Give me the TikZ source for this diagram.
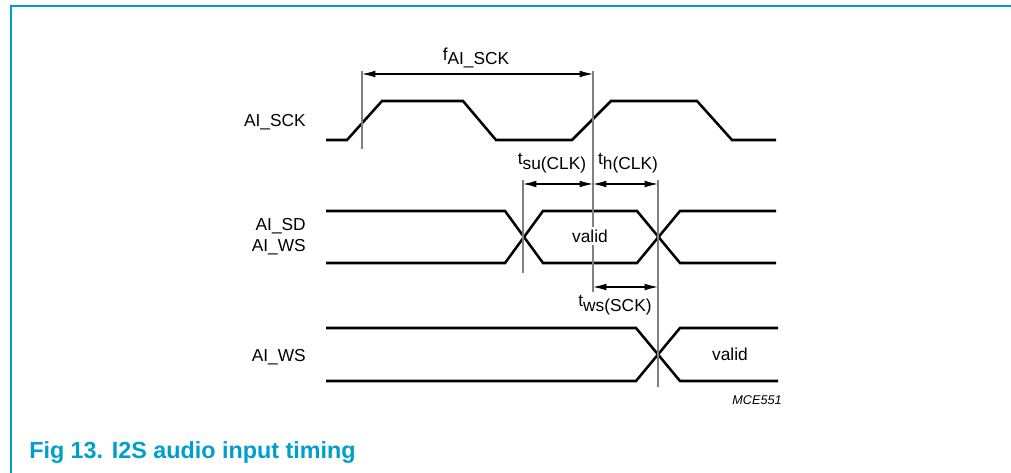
\documentclass[tikz,border=0pt]{standalone}
\usepackage{fontspec}
\setmainfont{Liberation Sans}
\usetikzlibrary{arrows.meta}
\definecolor{figblue}{RGB}{0,158,204}
\newcommand{\sig}[2]{#1\raisebox{-0.5ex}{#2}}

\begin{document}
\begin{tikzpicture}[x=0.75pt,y=-0.75pt,
  wave/.style={line width=1.9pt},
  guide/.style={gray,line width=0.9pt},
  dim/.style={{Latex[length=10pt,width=5pt]}-{Latex[length=10pt,width=5pt]},line width=0.8pt},
  lbl/.style={font=\fontsize{13}{16}\selectfont,inner sep=0pt}]
\useasboundingbox (0,0) rectangle (1011,473);
\draw[figblue,line width=1.5pt] (11,473) -- (11,6) -- (1011,6);

% signal names
\node[lbl,anchor=east] (sck) at (306,122) {AI\_SCK};
\node[lbl,anchor=east,align=right] (sdws) at (306,237) {AI\_SD\\AI\_WS};
\node[lbl,anchor=east] (ws) at (306,357) {AI\_WS};

% waveforms
\draw[wave] (326,140) -- (347,140) -- (382,101) -- (463,101) -- (496,140) -- (572,140)
  -- (611,101) -- (697,101) -- (732,140) -- (776,140);
\draw[wave] (326,211) -- (505,211) -- (543,263) -- (637,263) -- (680,211) -- (776,211);
\draw[wave] (326,263) -- (505,263) -- (543,211) -- (637,211) -- (680,263) -- (776,263);
\draw[wave] (326,328) -- (636,328) -- (680,381) -- (778,381);
\draw[wave] (326,381) -- (636,381) -- (680,328) -- (778,328);

% reference lines
\draw[guide] (362,71) -- (362,149);
\draw[guide] (593,71) -- (593,292);
\draw[guide] (523,180) -- (523,273);
\draw[guide] (658,180) -- (658,387);

\node[lbl,fill=white,inner sep=2pt] (valid1) at (590,236) {valid};
\node[lbl] (valid2) at (730,354) {valid};

% timing arrows
\coordinate (f1) at (362,74);
\coordinate (f2) at (593,74);
\coordinate (s1) at (523,184);
\coordinate (s2) at (593,184);
\coordinate (h2) at (658,184);
\coordinate (w1) at (593,287);
\coordinate (w2) at (658,287);
\draw[dim] (f1) -- (f2);
\draw[dim] (s1) -- (s2);
\draw[dim] (s2) -- (h2);
\draw[dim] (w1) -- (w2);

\node[lbl] (fsck) at (476,58) {\sig{f}{AI\_SCK}};
\node[lbl] (tsu) at (552,163) {\sig{t}{su(CLK)}};
\node[lbl] (th) at (628,163) {\sig{t}{h(CLK)}};
\node[lbl] (tws) at (615,305) {\sig{t}{ws(SCK)}};

\node[font=\fontsize{9.5}{11}\selectfont\itshape,inner sep=0pt] (code) at (757,400) {MCE551};
\node[font=\fontsize{17.5}{20}\selectfont\bfseries,text=figblue,anchor=base west,inner sep=0pt]
  (caption) at (29,459) {Fig 13. I2S audio input timing};
\end{tikzpicture}
\end{document}
